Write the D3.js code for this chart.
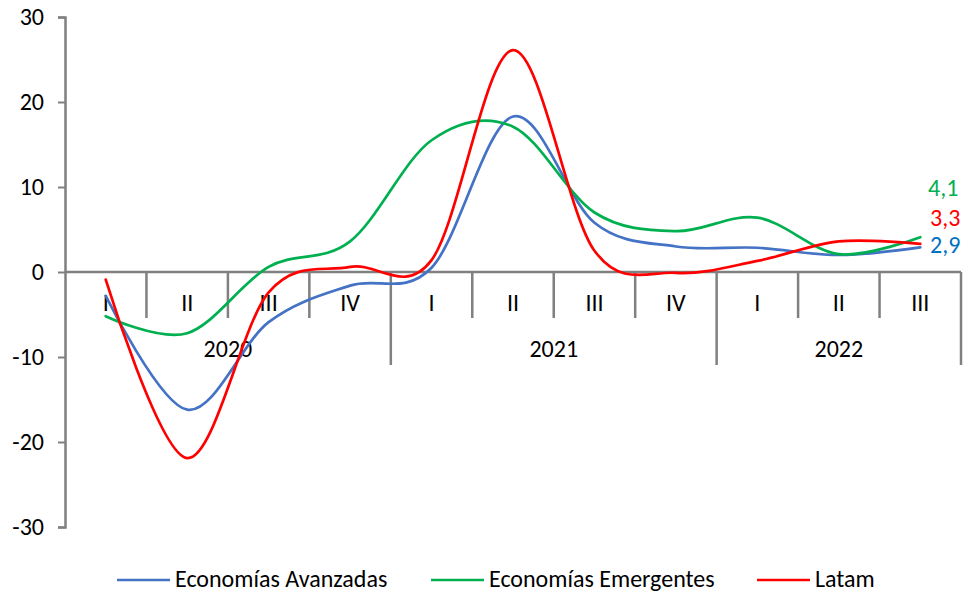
<!DOCTYPE html>
<html>
<head>
<meta charset="utf-8">
<script src="https://cdn.jsdelivr.net/npm/d3@7"></script>
<style>
  html, body { margin: 0; padding: 0; background: #fff; }
  svg { display: block; font-family: Carlito, Lato, "Open Sans", sans-serif; }
</style>
</head>
<body>
<svg id="chart" width="966" height="592"></svg>
<script>
// ---- Data ----
const quarters = ["I", "II", "III", "IV", "I", "II", "III", "IV", "I", "II", "III"];
const years = [
  { label: "2020", start: 0, end: 4 },
  { label: "2021", start: 4, end: 8 },
  { label: "2022", start: 8, end: 11 }
];
const avanzadas = [-2.8, -16.2, -5.9, -1.6, 0.5, 18.3, 5.8, 3.0, 2.85, 2.0, 2.9];
const emergentes = [-5.2, -7.2, 0.6, 3.6, 15.5, 17.1, 7.0, 4.8, 6.4, 2.1, 4.1];
const latam = [-0.9, -21.9, -2.4, 0.6, 1.4, 26.1, 2.5, -0.1, 1.3, 3.6, 3.3];
const yTicks = [-30, -20, -10, 0, 10, 20, 30];
const seriesNames = ["Economías Avanzadas", "Economías Emergentes", "Latam"];
const seriesColors = ["#4472C4", "#00B050", "#FF0000"];
const endLabels = ["2,9", "4,1", "3,3"];
const endLabelColors = ["#0070C0", "#00B050", "#FF0000"];

const svg = d3.select("#chart");
const axisColor = "#808080";
const fontSize = "24px";

const x = d3.scaleBand().domain(d3.range(quarters.length)).range([65, 961]).paddingInner(0).paddingOuter(0);
const y = d3.scaleLinear().domain([-30, 30]).range([527, 17]);
const cx = i => x(i) + x.bandwidth() / 2;

// Y axis
const yAxis = d3.axisLeft(y).tickValues(yTicks).tickSize(7).tickPadding(14).tickFormat(d => String(d));
const gy = svg.append("g").attr("transform", "translate(65,0)").call(yAxis)
  .attr("font-family", null).attr("font-size", null);
gy.select(".domain").attr("stroke", axisColor).attr("stroke-width", 2.5);
gy.selectAll(".tick line").attr("stroke", axisColor).attr("stroke-width", 2);
gy.selectAll(".tick text").attr("fill", "#000").style("font-size", fontSize);

// X axis line at 0
const y0 = y(0);
svg.append("line").attr("x1", 65).attr("x2", 961).attr("y1", y0).attr("y2", y0)
  .attr("stroke", axisColor).attr("stroke-width", 2.5);

// Quarter separators
const yearBoundaries = new Set(years.map(d => d.start).concat([quarters.length]));
for (let i = 1; i <= quarters.length; i++) {
  const xb = x(i - 1) + x.bandwidth();
  const isYear = yearBoundaries.has(i);
  svg.append("line").attr("x1", xb).attr("x2", xb).attr("y1", y0).attr("y2", isYear ? 365 : 318)
    .attr("stroke", axisColor).attr("stroke-width", 2.5);
}

// Quarter labels
svg.append("g").selectAll("text").data(quarters).join("text")
  .attr("x", (d, i) => cx(i)).attr("y", 311)
  .attr("text-anchor", "middle").style("font-size", fontSize).attr("fill", "#000")
  .text(d => d);

// Year labels
svg.append("g").selectAll("text").data(years).join("text")
  .attr("x", d => (x(d.start) + x(d.end - 1) + x.bandwidth()) / 2).attr("y", 357)
  .attr("text-anchor", "middle").style("font-size", fontSize).attr("fill", "#000")
  .text(d => d.label);

// Lines
const line = d3.line().x((d, i) => cx(i)).y(d => y(d)).curve(d3.curveCardinal.tension(0));
const allSeries = [avanzadas, emergentes, latam];
allSeries.forEach((s, k) => {
  svg.append("path").datum(s).attr("d", line)
    .attr("fill", "none").attr("stroke", seriesColors[k]).attr("stroke-width", 2.7)
    .attr("stroke-linecap", "round");
});

// End labels
const endY = [253, 196, 226];
const endX = [930, 928, 930];
allSeries.forEach((s, k) => {
  svg.append("text").attr("x", endX[k]).attr("y", endY[k])
    .style("font-size", fontSize).attr("fill", endLabelColors[k]).text(endLabels[k]);
});

// Legend
const legendX = [117, 431, 757];
seriesNames.forEach((name, k) => {
  const g = svg.append("g").attr("transform", `translate(${legendX[k]},580)`);
  g.append("line").attr("x1", 0).attr("x2", 53).attr("y1", 0).attr("y2", 0)
    .attr("stroke", seriesColors[k]).attr("stroke-width", 2.7);
  g.append("text").attr("x", 58).attr("y", 7).style("font-size", "24px").attr("fill", "#000").text(name);
});
</script>
</body>
</html>
